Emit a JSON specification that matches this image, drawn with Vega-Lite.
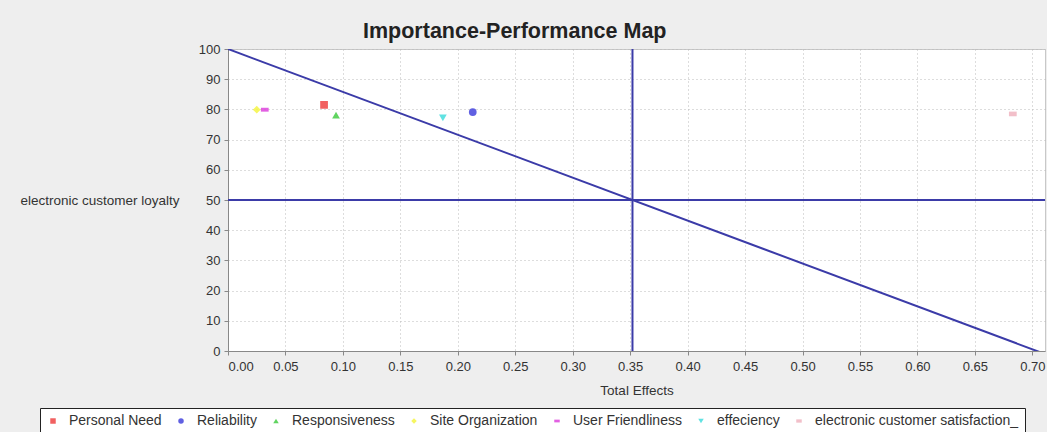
{
  "$schema": "https://vega.github.io/schema/vega-lite/v6.json",
  "autosize": "none",
  "width": 817,
  "height": 302,
  "padding": {"left": 228, "top": 49, "right": 2, "bottom": 81},
  "background": "#eeeeee",
  "config": {
    "view": {"fill": "white", "stroke": "#c8c8c8"},
    "font": "Liberation Sans"
  },
  "title": {
    "text": "Importance-Performance Map",
    "fontSize": 21.5,
    "fontWeight": "bold",
    "color": "#222222",
    "anchor": "start",
    "dx": 343,
    "offset": 1
  },
  "datasets": {
    "points": [
      {"construct": "Personal Need", "effect": 0.0836, "performance": 81.5},
      {"construct": "Reliability", "effect": 0.213, "performance": 79.1},
      {"construct": "Responsiveness", "effect": 0.094, "performance": 78.1},
      {"construct": "Site Organization", "effect": 0.025, "performance": 79.9},
      {"construct": "User Friendliness", "effect": 0.032, "performance": 79.9},
      {"construct": "effeciency", "effect": 0.187, "performance": 77.2},
      {"construct": "electronic customer satisfaction_", "effect": 0.683, "performance": 78.5}
    ],
    "diag": [
      {"effect": 0, "performance": 100},
      {"effect": 0.711, "performance": -1}
    ],
    "vline": [{"effect": 0.352}],
    "hline": [{"performance": 50}]
  },
  "encoding": {
    "x": {
      "field": "effect",
      "type": "quantitative",
      "scale": {"domain": [0, 0.711], "nice": false, "zero": false},
      "axis": {
        "title": "Total Effects",
        "values": [0, 0.05, 0.1, 0.15, 0.2, 0.25, 0.3, 0.35, 0.4, 0.45, 0.5, 0.55, 0.6, 0.65, 0.7],
        "format": ".2f",
        "grid": true,
        "gridColor": "#bbbbbb",
        "gridDash": [1, 3],
        "domainColor": "#888888",
        "tickColor": "#888888",
        "tickSize": 4,
        "labelFontSize": 13,
        "labelColor": "#333333",
        "labelPadding": 5,
        "labelOverlap": false,
        "titleFontSize": 13.5,
        "titleFontWeight": "normal",
        "titleColor": "#333333",
        "titlePadding": 10
      }
    },
    "y": {
      "field": "performance",
      "type": "quantitative",
      "scale": {"domain": [0, 100], "nice": false},
      "axis": {
        "title": "electronic customer loyalty",
        "values": [0, 10, 20, 30, 40, 50, 60, 70, 80, 90, 100],
        "grid": true,
        "gridColor": "#bbbbbb",
        "gridDash": [1, 3],
        "domainColor": "#888888",
        "tickColor": "#888888",
        "tickSize": 4,
        "labelFontSize": 13,
        "labelColor": "#333333",
        "labelPadding": 4,
        "labelOverlap": false,
        "titleAngle": 0,
        "titleAlign": "left",
        "titleBaseline": "middle",
        "titleX": -208,
        "titleY": 151,
        "titleFontSize": 13.5,
        "titleFontWeight": "normal",
        "titleColor": "#333333"
      }
    }
  },
  "layer": [
    {
      "data": {"name": "diag"},
      "mark": {"type": "line", "color": "#3b3ba8", "strokeWidth": 2, "clip": true}
    },
    {
      "data": {"name": "vline"},
      "mark": {"type": "rule", "color": "#3b3ba8", "strokeWidth": 2},
      "encoding": {"y": null}
    },
    {
      "data": {"name": "hline"},
      "mark": {"type": "rule", "color": "#3b3ba8", "strokeWidth": 2},
      "encoding": {"x": null}
    },
    {
      "data": {"name": "points"},
      "mark": {"type": "point", "filled": true, "opacity": 0.85, "size": 60},
      "encoding": {
        "color": {
          "field": "construct",
          "type": "nominal",
          "scale": {
            "domain": ["Personal Need", "Reliability", "Responsiveness", "Site Organization", "User Friendliness", "effeciency", "electronic customer satisfaction_"],
            "range": ["#ee4444", "#4444dd", "#44cc44", "#f4f444", "#dd44dd", "#44dddd", "#f0b4c0"]
          },
          "legend": {
            "orient": "none",
            "legendX": -188,
            "legendY": 359,
            "direction": "horizontal",
            "title": null,
            "strokeColor": "#222222",
            "fillColor": "white",
            "padding": 6,
            "labelFontSize": 14,
            "labelLimit": 400,
            "labelColor": "#333333",
            "symbolSize": 30,
            "columnPadding": 12,
            "labelOffset": 9
          }
        },
        "shape": {
          "field": "construct",
          "type": "nominal",
          "scale": {
            "domain": ["Personal Need", "Reliability", "Responsiveness", "Site Organization", "User Friendliness", "effeciency", "electronic customer satisfaction_"],
            "range": ["square", "circle", "triangle-up", "diamond", "M-1,-0.5H1V0.5H-1Z", "triangle-down", "M-1,-0.6H1V0.6H-1Z"]
          }
        }
      }
    }
  ]
}
